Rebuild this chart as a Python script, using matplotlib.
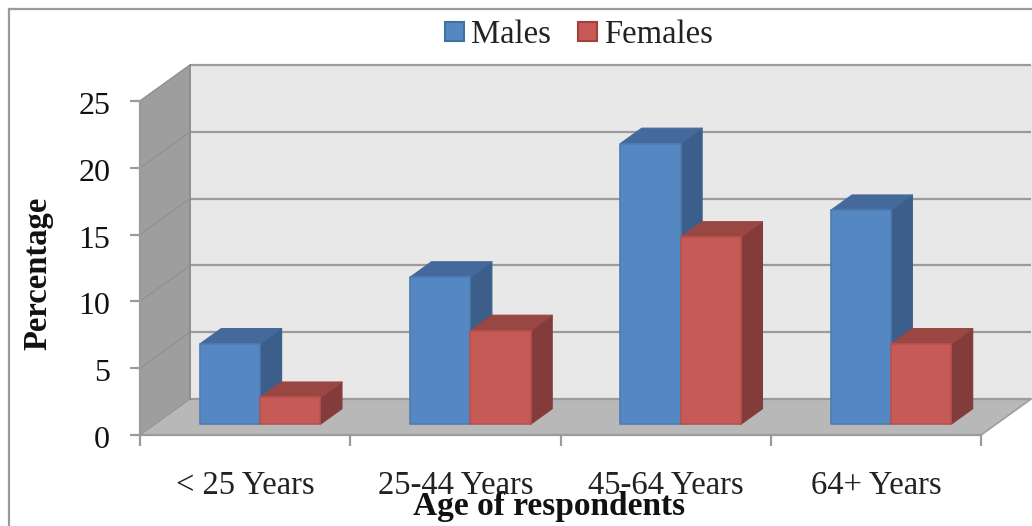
import matplotlib
matplotlib.use("Agg")
import matplotlib.pyplot as plt
from matplotlib.lines import Line2D
from matplotlib.patches import Polygon, Patch
from matplotlib.transforms import ScaledTranslation

categories = ["< 25 Years", "25-44 Years", "45-64 Years", "64+ Years"]
males = [6, 11, 21, 16]
females = [2, 7, 14, 6]
yticks = [0, 5, 10, 15, 20, 25]

W, H = 1032, 526
plt.rcParams['font.family'] = ['Liberation Serif', 'DejaVu Serif']
fig = plt.figure(figsize=(W / 100, H / 100), dpi=100)

L, R, T, B = 140, 981, 101, 435
ax = fig.add_axes([L / W, 1 - B / H, (R - L) / W, (B - T) / H])
ax.set_xlim(0, len(categories))
ax.set_ylim(0, 25)
ax.patch.set_visible(False)

# oblique projection: depth d in 0..1 shifts a point up and to the right
DX = 50 / ((R - L) / 4)
DY = 36 / ((B - T) / 25)


def P(x, y, d=0.0):
    return (x + d * DX, y + d * DY)


def poly(pts, fc, ec=None, lw=1.0, z=1):
    ax.add_patch(Polygon(pts, closed=True, fc=fc, ec=ec if ec else fc, lw=lw,
                         zorder=z, clip_on=False, joinstyle='round'))


GRID = '#9b9b9b'
n = len(categories)
poly([P(0, 0, 1), P(n, 0, 1), P(n, 25, 1), P(0, 25, 1)], '#e8e8e8', '#e8e8e8', z=1)
poly([P(0, 0), P(0, 0, 1), P(0, 25, 1), P(0, 25)], '#9e9e9e', '#9e9e9e', z=1)
poly([P(0, 0), P(n, 0), P(n, 0, 1), P(0, 0, 1)], '#b8b8b8', '#b8b8b8', z=1)

for v in yticks:
    x0, y0 = P(0, v)
    x1, y1 = P(0, v, 1)
    x2, y2 = P(n, v, 1)
    ax.plot([x1, x2], [y1, y2], color=GRID, lw=1.6, zorder=2, clip_on=False,
            solid_capstyle='butt')
    ax.plot([x0, x1], [y0, y1], color='#8f8f8f', lw=0.8, zorder=2, clip_on=False)
ax.plot([P(0, 0, 1)[0]] * 2, [P(0, 0, 1)[1], P(0, 25, 1)[1]], color='#8a8a8a', lw=1.2,
        zorder=2, clip_on=False)
ax.plot([P(n, 0)[0], P(n, 0, 1)[0]], [0, P(n, 0, 1)[1]], color='#a0a0a0', lw=1.2,
        zorder=2, clip_on=False)

GAP = 0.213
BW = 0.287
D0, D1 = 0.30, 0.73
STYLES = [('#5588c2', '#44699a', '#3b5e8a', '#4c7db3'),
          ('#c55a56', '#9a4643', '#843c3a', '#b5524f')]

z = 3
for i in range(n):
    for s, vals in enumerate((males, females)):
        v = vals[i]
        x0 = i + GAP + s * BW
        x1 = x0 + BW
        front, top, side, edge = STYLES[s]
        poly([P(x1, 0, D0), P(x1, 0, D1), P(x1, v, D1), P(x1, v, D0)], side, side, 0.8, z)
        poly([P(x0, v, D0), P(x1, v, D0), P(x1, v, D1), P(x0, v, D1)], top, top, 0.8, z)
        poly([P(x0, 0, D0), P(x1, 0, D0), P(x1, v, D0), P(x0, v, D0)], front, edge, 1.2, z + 1)
        z += 2

for sp in ('top', 'right'):
    ax.spines[sp].set_visible(False)
for sp in ('left', 'bottom'):
    ax.spines[sp].set_color(GRID)
    ax.spines[sp].set_linewidth(1.6)
    ax.spines[sp].set_zorder(2.5)

ax.set_yticks(yticks)
ax.tick_params(axis='y', length=7, width=1.6, color=GRID, labelsize=23, pad=14.5,
               labelcolor='#111111')
shift = ScaledTranslation(0, -2 / 100, fig.dpi_scale_trans)
for lbl in ax.get_yticklabels():
    lbl.set_transform(lbl.get_transform() + shift)
ax.set_xticks(range(n + 1))
ax.set_xticklabels([])
ax.tick_params(axis='x', which='major', length=8, width=1.6, color=GRID)
ax.set_xticks([i + 0.5 for i in range(n)], categories, minor=True)
ax.tick_params(axis='x', which='minor', length=0, labelsize=23.5, pad=25.5,
               labelcolor='#222222')

ax.set_xlabel("Age of respondents", fontsize=24, fontweight='bold', color='#111111')
ax.xaxis.set_label_coords(0.486, -0.2155, transform=ax.transAxes)
ax.xaxis.label.set_va('center')
ax.set_ylabel("Percentage", fontsize=23.5, fontweight='bold', color='#111111')
ax.yaxis.set_label_coords(-0.1215, 0.483, transform=ax.transAxes)
ax.yaxis.label.set_va('center')

handles = [Patch(fc=STYLES[0][0], ec='#41719f', lw=1.5, label='Males'),
           Patch(fc=STYLES[1][0], ec='#a23f3c', lw=1.5, label='Females')]
fig.legend(handles=handles, loc='center', bbox_to_anchor=(579 / W, 1 - 35 / H),
           ncol=2, frameon=False, fontsize=23.5, handlelength=0.56, handleheight=0.5,
           handletextpad=0.22, columnspacing=0.85, labelcolor='#222222', borderpad=0)

FRAME = '#9a9a9a'
fig.add_artist(Line2D([8.5 / W, 8.5 / W], [0, 1 - 8.5 / H], transform=fig.transFigure,
                      color=FRAME, lw=1.6, solid_capstyle='projecting'))
fig.add_artist(Line2D([8.5 / W, 1], [1 - 8.5 / H, 1 - 8.5 / H], transform=fig.transFigure,
                      color=FRAME, lw=1.6, solid_capstyle='projecting'))
fig.savefig('out.png', dpi=100)
